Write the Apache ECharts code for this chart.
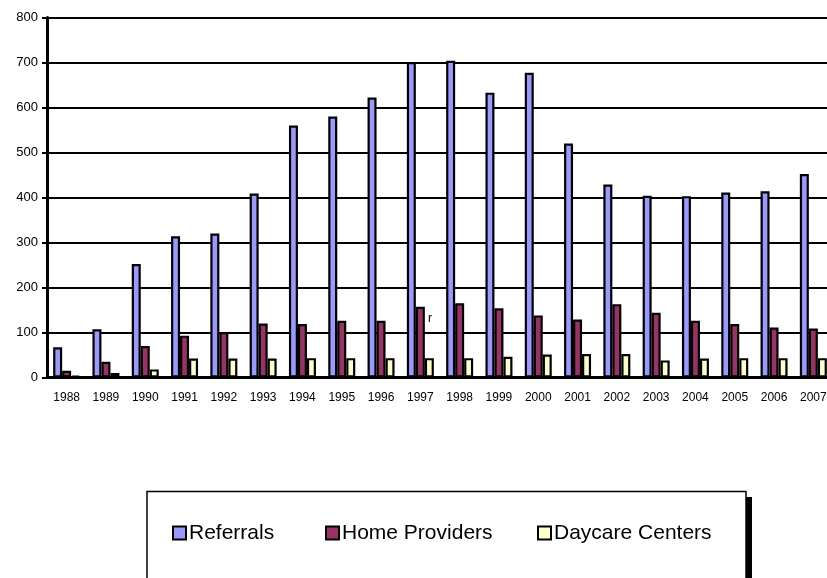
<!DOCTYPE html>
<html>
<head>
<meta charset="utf-8">
<script src="https://cdn.jsdelivr.net/npm/echarts@6/dist/echarts.min.js"></script>
<style>
html,body{margin:0;padding:0;background:#fff;}
#chart{width:827px;height:578px;}
</style>
</head>
<body>
<div id="chart"></div>
<script>
var years = ['1988','1989','1990','1991','1992','1993','1994','1995','1996','1997','1998','1999','2000','2001','2002','2003','2004','2005','2006','2007'];
var referrals = [67,107,252,314,320,409,560,580,622,701,704,633,677,520,429,404,403,411,414,452];
var homeProviders = [15,35,70,93,101,120,119,126,126,157,165,154,138,129,163,144,126,119,111,109];
var daycareCenters = [4,10,18,42,42,42,43,43,43,43,43,46,51,52,52,38,42,43,43,43];
var seriesNames = ['Referrals','Home Providers','Daycare Centers'];
var seriesColors = ['#9999FF','#993366','#FFFFCC'];
var yTicks = {min:0, max:800, interval:100};

var FONT = '"Liberation Sans", Arial, sans-serif';
var chart = echarts.init(document.getElementById('chart'), null, {renderer:'canvas'});

function mkSeries(name, data, color){
  return {
    name: name, type: 'bar', data: data,
    barWidth: 9, barGap: '0%',
    itemStyle: {color: color, borderColor: '#000', borderWidth: 2.2},
    emphasis: {disabled: true},
    animation: false
  };
}
function mkLegend(name, left){
  return {
    data: [name], left: left, top: 522, padding: 0, orient: 'horizontal',
    itemWidth: 13, itemHeight: 13, selectedMode: false, icon: 'rect',
    itemStyle: {borderColor: '#000', borderWidth: 2},
    textStyle: {fontFamily: FONT, fontSize: 21, color: '#000', lineHeight: 22, padding: [0,0,0,-2]}
  };
}

chart.setOption({
  backgroundColor: '#fff',
  animation: false,
  grid: {left: 47, top: 17.5, right: -6, bottom: 200.5, containLabel: false, outerBoundsMode: 'none'},
  xAxis: {
    type: 'category', data: years,
    axisLine: {show: true, lineStyle: {color: '#000', width: 3}},
    axisTick: {show: false},
    axisLabel: {fontFamily: FONT, fontSize: 12, color: '#000', margin: 14, interval: 0},
    splitLine: {show: false}
  },
  yAxis: {
    type: 'value', min: yTicks.min, max: yTicks.max, interval: yTicks.interval,
    axisLine: {show: true, lineStyle: {color: '#000', width: 3}},
    axisTick: {show: true, length: 5, lineStyle: {color: '#000', width: 2}},
    axisLabel: {fontFamily: FONT, fontSize: 13, color: '#000', margin: 9},
    splitLine: {show: true, lineStyle: {color: '#000', width: 2}}
  },
  legend: [
    mkLegend(seriesNames[0], 172),
    mkLegend(seriesNames[1], 325),
    mkLegend(seriesNames[2], 537)
  ],
  series: [
    mkSeries(seriesNames[0], referrals, seriesColors[0]),
    mkSeries(seriesNames[1], homeProviders, seriesColors[1]),
    mkSeries(seriesNames[2], daycareCenters, seriesColors[2])
  ],
  graphic: [
    {type: 'rect', z: -1, shape: {x: 746, y: 497, width: 6, height: 100}, style: {fill: '#000'}},
    {type: 'rect', z: -1, shape: {x: 147, y: 491.5, width: 599, height: 100}, style: {fill: '#fff', stroke: '#000', lineWidth: 1.5}},
    {type: 'text', x: 428, y: 313, style: {text: 'r', font: '12px ' + FONT, fill: '#000'}}
  ]
});
</script>
</body>
</html>
